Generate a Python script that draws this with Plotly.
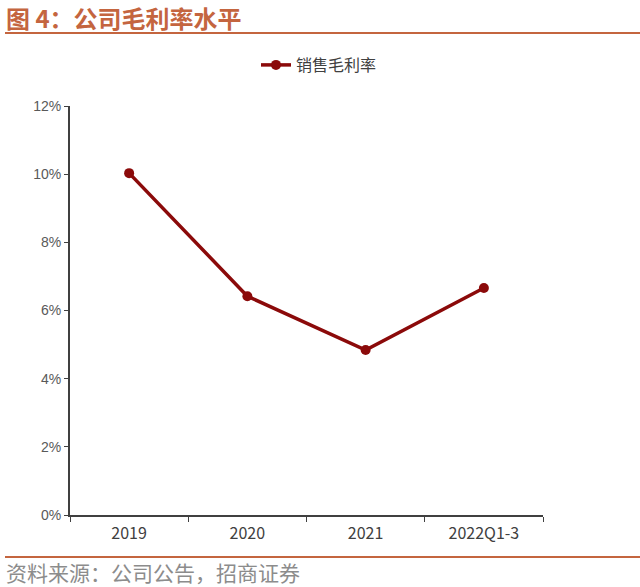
import plotly.graph_objects as go

categories = ["2019", "2020", "2021", "2022Q1-3"]
gross_margin = [0.1003, 0.0642, 0.0484, 0.0666]
series_name = "销售毛利率"
y_ticks = [0, 0.02, 0.04, 0.06, 0.08, 0.10, 0.12]
y_tick_labels = ["0%", "2%", "4%", "6%", "8%", "10%", "12%"]

line_color = "#8B0A0A"
accent = "#C4653F"
font_cjk = "Noto Sans CJK SC"
font_num = "Liberation Sans"

W, H = 640, 587
L, R, T, B = 70, 543, 106, 515
pw, ph = R - L, B - T

def px(x):
    return (x - L) / pw

def py(y):
    return (B - y) / ph

fig = go.Figure()
fig.add_trace(go.Scatter(
    x=categories, y=gross_margin, name=series_name,
    mode="lines+markers",
    line=dict(color=line_color, width=3.5),
    marker=dict(color=line_color, size=10),
))

fig.update_layout(
    width=W, height=H,
    margin=dict(l=L, r=W - R, t=T, b=H - B, autoexpand=False),
    paper_bgcolor="white", plot_bgcolor="white",
    font=dict(family=font_num, color="#595959", size=14),
    showlegend=True,
    legend=dict(orientation="h", x=px(256), xanchor="left",
                yref="container", y=(H - 65) / H, yanchor="middle",
                font=dict(size=16, color="#404040", family=font_cjk)),
    xaxis=dict(
        type="category", range=[-0.5, len(categories) - 0.5],
        showline=True, linecolor="#404040", linewidth=2,
        ticks="outside", ticklen=5, tickcolor="#404040", tickson="boundaries",
        showgrid=False, tickfont=dict(size=16, color="#404040", family=font_cjk),
        ticklabelstandoff=3, fixedrange=True,
    ),
    yaxis=dict(
        range=[0, 0.12], tickvals=y_ticks, ticktext=y_tick_labels,
        showline=True, linecolor="#404040", linewidth=2,
        ticks="outside", ticklen=4, tickcolor="#404040",
        showgrid=False, zeroline=False, fixedrange=True,
        tickfont=dict(size=14, color="#595959", family=font_num),
    ),
)

fig.add_annotation(text="<b>图 4：公司毛利率水平</b>", xref="paper", yref="paper",
                   x=px(4), y=py(18), xanchor="left", yanchor="middle",
                   showarrow=False, font=dict(size=24, color=accent, family=font_cjk))
fig.add_shape(type="line", xref="paper", yref="paper",
              x0=px(5), x1=px(640), y0=py(33), y1=py(33),
              line=dict(color=accent, width=2))
fig.add_shape(type="line", xref="paper", yref="paper",
              x0=px(5), x1=px(640), y0=py(557), y1=py(557),
              line=dict(color=accent, width=2))
fig.add_annotation(text="资料来源：公司公告，招商证券", xref="paper", yref="paper",
                   x=px(4), y=py(572), xanchor="left", yanchor="middle",
                   showarrow=False, font=dict(size=21, color="#8C8C8C", family=font_cjk))

fig.write_html("out.html", config={"displayModeBar": False},
               post_script="document.body.style.margin='0px';")
